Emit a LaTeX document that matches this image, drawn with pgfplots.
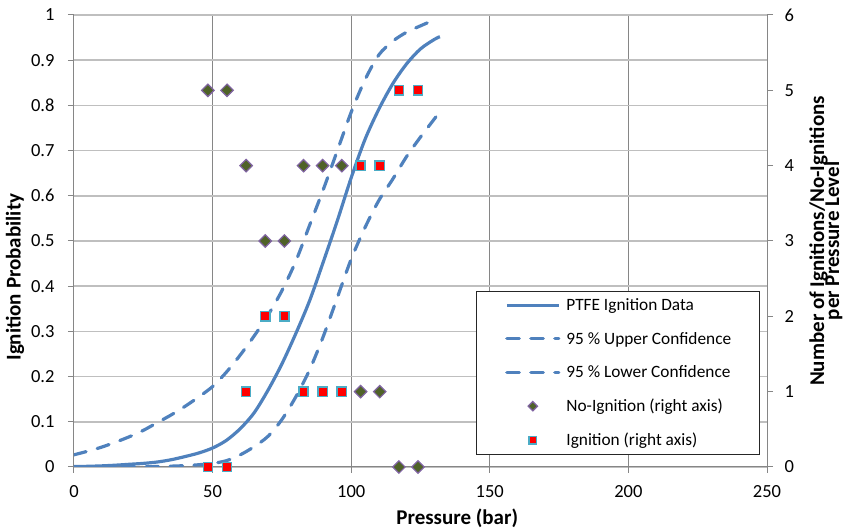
\documentclass[border=0pt]{standalone}
\usepackage{fontspec}
\setmainfont{Carlito}
\usepackage{pgfplots}
\pgfplotsset{compat=1.18}
\usetikzlibrary{calc}
\definecolor{cLine}{HTML}{4F81BD}
\definecolor{cDiaFill}{HTML}{4F6228}
\definecolor{cDiaEdge}{HTML}{8064A2}
\definecolor{cSqEdge}{HTML}{4BACC6}
\definecolor{cGridV}{HTML}{868686}
\definecolor{cGridH}{HTML}{BFBFBF}
\pgfplotsset{
  base/.style={
    scale only axis, width=693pt, height=452pt,
    xmin=0, xmax=250,
    tick align=outside, major tick length=6pt,
    tick style={cGridV, line width=1pt},
    axis line style={cGridV, line width=1pt, -},
    tick label style={font=\fontsize{18.5}{22}\selectfont},
    label style={font=\bfseries\fontsize{21}{19}\selectfont},
    /pgf/number format/assume math mode=true,
  },
  dashcurve/.style={cLine, line width=3.2pt, line cap=round, dash pattern=on 12.5pt off 11.5pt},
  linelegend/.style={legend image code/.code={\draw[##1] (0pt,0pt) -- (52pt,0pt);}},
  marklegend/.style={legend image code/.code={\draw[##1, every mark/.append style={scale=#1}] plot coordinates {(26pt,0pt)};}},
}
\begin{document}
\begin{tikzpicture}
\begin{axis}[
    base,
    ymin=0, ymax=1,
    axis x line*=bottom, axis y line*=left,
    xtick={0,50,100,150,200,250},
    ytick={0,0.1,0.2,0.3,0.4,0.5,0.6,0.7,0.8,0.9,1},
    yticklabels={0,0.1,0.2,0.3,0.4,0.5,0.6,0.7,0.8,0.9,1},
    xmajorgrids, ymajorgrids,
    x grid style={cGridV, line width=1pt},
    y grid style={cGridH, line width=1.6pt},
    yticklabel style={xshift=-10pt},
    xticklabel style={yshift=-9pt},
    xlabel={Pressure (bar)}, ylabel={Ignition Probability},
    xlabel style={at={(axis description cs:0.553,-0.113)}, anchor=center},
    ylabel style={at={(axis description cs:-0.085,0.42)}, anchor=center},
]
% fitted curve
\addplot[cLine, line width=3.2pt, smooth] coordinates {
  (0,0.001) (5,0.0015) (10,0.0025) (15,0.004) (20,0.006) (25,0.008) (30,0.011)
  (35,0.016) (40,0.023) (45,0.031) (50,0.042) (55,0.059) (60,0.085) (65,0.120)
  (70,0.170) (75,0.228) (80,0.295) (85,0.368) (90,0.455) (95,0.545) (100,0.640)
  (105,0.725) (110,0.792) (115,0.848) (120,0.892) (125,0.925) (130,0.946) (132,0.952)
};
% upper bound
\addplot[dashcurve, smooth] coordinates {
  (0,0.027) (5,0.035) (10,0.044) (15,0.055) (20,0.067) (25,0.081) (30,0.098)
  (35,0.115) (40,0.134) (45,0.155) (50,0.178) (55,0.210) (60,0.248) (65,0.290)
  (70,0.336) (75,0.390) (80,0.455) (85,0.535) (90,0.615) (95,0.700) (100,0.785)
  (105,0.857) (110,0.912) (115,0.942) (120,0.962) (125,0.976) (128,0.984)
};
% lower bound
\addplot[dashcurve, smooth] coordinates {
  (0,0.000) (10,0.000) (20,0.0005) (30,0.001) (40,0.003) (45,0.005) (50,0.008)
  (55,0.014) (60,0.027) (65,0.045) (70,0.068) (75,0.105) (80,0.155) (85,0.215)
  (90,0.290) (95,0.375) (100,0.460) (105,0.530) (110,0.590) (115,0.637)
  (120,0.687) (125,0.730) (130,0.770) (132,0.786)
};
\coordinate (BL) at (rel axis cs:0,0);
\coordinate (TR) at (rel axis cs:1,1);
\end{axis}
\begin{axis}[
    base,
    ymin=0, ymax=6,
    axis x line=none, axis y line*=right,
    ytick={0,1,2,3,4,5,6},
    yticklabel style={xshift=8pt},
    clip=false,
    ylabel={Number of Ignitions/No-Ignitions\\[-4pt]per Pressure Level},
    ylabel style={at={(axis description cs:1.085,0.5)}, anchor=center, align=center},
    legend cell align=left,
    linelegend,
    legend style={at={(0.99,0.027)}, anchor=south east, draw=black!85, line width=0.8pt,
      fill=white, font=\fontsize{17.3}{20}\selectfont,
      inner xsep=28.5pt, inner ysep=7pt, row sep=20pt, column sep=6pt,
      nodes={inner sep=0pt}},
]
\addlegendimage{cLine, line width=3.2pt}
\addlegendentry{PTFE Ignition Data}
\addlegendimage{dashcurve}
\addlegendentry{95 \% Upper Confidence}
\addlegendimage{dashcurve}
\addlegendentry{95 \% Lower Confidence}
\addplot[only marks, mark=square*, mark size=4.4pt,
    mark options={rotate=45, fill=cDiaFill, draw=cDiaEdge, line width=1.2pt},
    marklegend=0.75]
  coordinates {
  (48.3,5) (55.2,5) (62.1,4) (69.0,3) (75.9,3) (82.8,4)
  (89.7,4) (96.6,4) (103.4,1) (110.3,1) (117.2,0) (124.1,0)
};
\addlegendentry{No-Ignition (right axis)}
\addplot[only marks, mark=square*, mark size=4.6pt,
    mark options={fill=red, draw=cSqEdge, line width=1.5pt},
    marklegend=0.85]
  coordinates {
  (48.3,0) (55.2,0) (62.1,1) (69.0,2) (75.9,2) (82.8,1)
  (89.7,1) (96.6,1) (103.4,4) (110.3,4) (117.2,5) (124.1,5)
};
\addlegendentry{Ignition (right axis)}
\end{axis}
\pgfresetboundingbox
\path ($(BL)+(-74pt,-62pt)$) rectangle ($(TR)+(92pt,15pt)$);
\end{tikzpicture}
\end{document}
